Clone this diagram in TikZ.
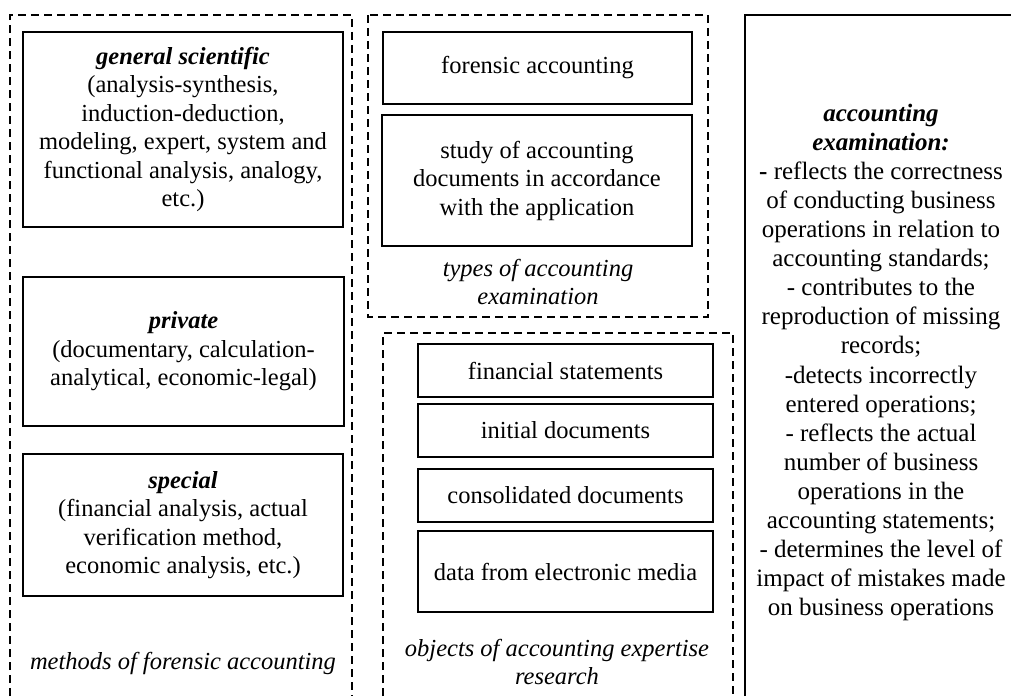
\documentclass[tikz,border=0pt]{standalone}
\usepackage{fontspec}
\setmainfont{Liberation Serif}
\begin{document}
\begin{tikzpicture}[x=1pt,y=-1pt,
  txt/.style={font=\fontsize{24.5}{28.5}\selectfont, align=center, inner sep=0pt},
  rtxt/.style={font=\fontsize{25}{29.1}\selectfont, align=center, inner sep=0pt},
  rbox/.style={txt, draw, line width=1.5pt},
  dashbox/.style={draw, line width=1.3pt, dash pattern=on 8pt off 5pt},
  solidframe/.style={draw, line width=1.5pt}]
\useasboundingbox (0,0) rectangle (1011,696);

% containers
\draw[dashbox] (10,696) -- (10,15) -- (352,15) -- (352,696);
\draw[dashbox] (368,15) rectangle (708,317);
\draw[dashbox] (383,696) -- (383,333) -- (733,333) -- (733,696);
\draw[solidframe] (745,696) -- (745,15) -- (1011,15);

% methods column
\node[rbox, minimum width=320pt, minimum height=195pt] (gen) at (183,129.5)
  {\textbf{\textit{general scientific}}\\(analysis-synthesis,\\induction-deduction,\\modeling, expert, system and\\functional analysis, analogy,\\etc.)};
\node[rbox, minimum width=321pt, minimum height=149pt] (priv) at (183.5,351.5)
  {\textbf{\textit{private}}\\(documentary, calculation-\\analytical, economic-legal)};
\node[rbox, minimum width=320pt, minimum height=142pt] (spec) at (183,525)
  {\textbf{\textit{special}}\\(financial analysis, actual\\verification method,\\economic analysis, etc.)};
\node[txt] (methods) at (183,663) {\textit{methods of forensic accounting}};

% types column
\node[rbox, minimum width=309pt, minimum height=72pt] (fa) at (537.5,68) {forensic accounting};
\node[rbox, minimum width=310pt, minimum height=131pt] (study) at (537,180.5)
  {study of accounting\\documents in accordance\\with the application};
\node[txt] (types) at (538,282) {\textit{types of accounting}\\\textit{examination}};

% objects column
\node[rbox, minimum width=295pt, minimum height=53pt] (fs) at (565.5,370.5) {financial statements};
\node[rbox, minimum width=295pt, minimum height=53pt] (init) at (565.5,430.5) {initial documents};
\node[rbox, minimum width=295pt, minimum height=53pt] (cons) at (565.5,495.5) {consolidated documents};
\node[rbox, minimum width=295pt, minimum height=81pt] (data) at (565.5,571.5) {data from electronic media};
\node[txt] (objects) at (557,662) {\textit{objects of accounting expertise}\\\textit{research}};

% right column
\node[rtxt] (exam) at (881,362.5)
  {\textbf{\textit{accounting}}\\\textbf{\textit{examination:}}\\\textbf{-} reflects the correctness\\of conducting business\\operations in relation to\\accounting standards;\\- contributes to the\\reproduction of missing\\records;\\-detects incorrectly\\entered operations;\\- reflects the actual\\number of business\\operations in the\\accounting statements;\\- determines the level of\\impact of mistakes made\\on business operations};
\end{tikzpicture}
\end{document}
